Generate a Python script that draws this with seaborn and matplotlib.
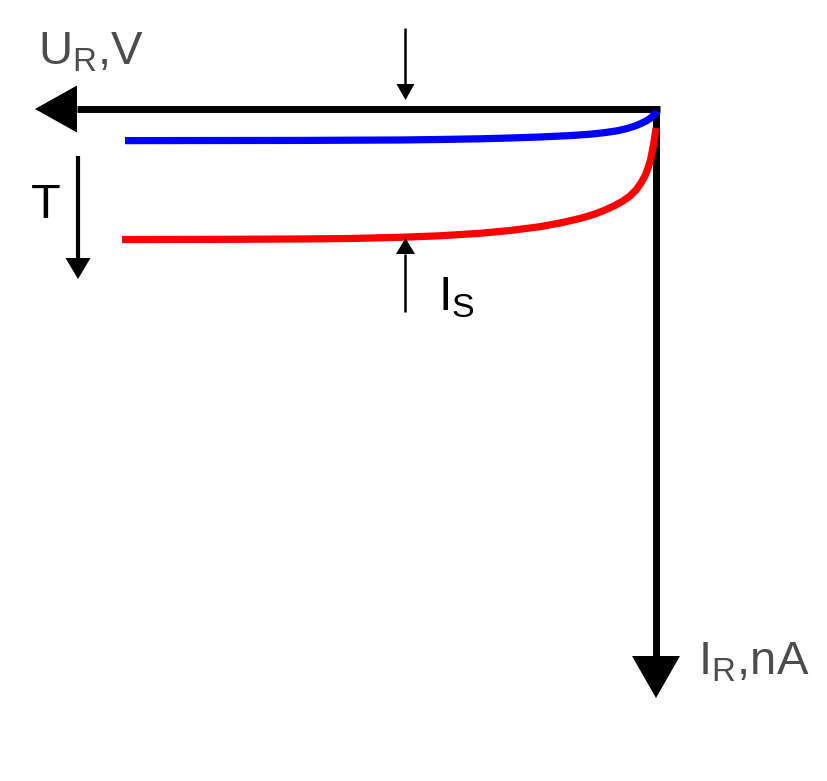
import numpy as np
import pandas as pd
import matplotlib
matplotlib.use('Agg')
import matplotlib.pyplot as plt
import seaborn as sns

# ============================================================
# Data: reverse branch of a diode, two temperatures
# U_R in V (grows to the left), I_R in nA (grows downward)
# ============================================================

u_low = [-0.019, 0.009, 0.057, 0.113, 0.189, 0.283, 0.396, 0.547, 0.736, 0.962,
         1.245, 1.623, 2.189, 2.755, 3.321, 4.075, 4.830, 6.717, 10.019]
i_low = [0.061, 0.136, 0.212, 0.288, 0.364, 0.439, 0.515, 0.591, 0.661, 0.715,
         0.764, 0.806, 0.848, 0.879, 0.903, 0.924, 0.939, 0.952, 0.958]

u_high = [0.000, 0.019, 0.038, 0.066, 0.104, 0.151, 0.208, 0.283, 0.377, 0.491,
          0.623, 0.774, 0.962, 1.151, 1.434, 1.811, 2.189, 2.755, 3.321, 4.075,
          4.830, 5.774, 6.717, 8.604, 10.075]
i_high = [0.576, 0.788, 1.000, 1.242, 1.545, 1.788, 2.030, 2.242, 2.455, 2.636,
          2.788, 2.924, 3.061, 3.182, 3.318, 3.455, 3.567, 3.682, 3.767, 3.842,
          3.888, 3.924, 3.939, 3.952, 3.955]

curve_names = ['low T', 'high T']
curve_colors = ['#0000ff', '#ff0000']

# ============================================================
# Layout (pixel scale of the drawing)
# ============================================================

W, H = 828, 781
x0, y0 = 656, 109          # origin in pixels
ppu, ppi = 53.0, 33.0      # pixels per volt / per nA
gray = '#4d4d4d'

sns.set_style('white')
plt.rcParams['font.family'] = ['Liberation Sans', 'DejaVu Sans']

fig = plt.figure(figsize=(W / 100, H / 100), dpi=100)
ax = fig.add_axes([0, 0, 1, 1])
ax.axis('off')


def to_data(px, py):
    return (x0 - px) / ppu, (py - y0) / ppi


def draw_arrow(start, tip, head_px, half_px, lw, zorder):
    # shaft as a plain line up to the head base, head as a filled triangle
    sx, sy = x0 - start[0] * ppu, y0 + start[1] * ppi
    tx, ty = x0 - tip[0] * ppu, y0 + tip[1] * ppi
    d = np.array([tx - sx, ty - sy])
    d = d / np.hypot(*d)
    base = to_data(tx - d[0] * head_px, ty - d[1] * head_px)
    ax.plot([start[0], base[0]], [start[1], base[1]], color='black', lw=lw,
            solid_capstyle='butt', zorder=zorder)
    style = f'-|>,head_length={head_px * 0.72:.2f},head_width={half_px * 0.72:.2f}'
    ax.annotate('', xy=tip, xytext=start,
                arrowprops=dict(arrowstyle=style, mutation_scale=1, lw=0,
                                color='black', shrinkA=0, shrinkB=0),
                zorder=zorder)


# main axes
draw_arrow(to_data(660, y0), to_data(35, y0), 42, 23.5, 5.0, 2)
draw_arrow(to_data(x0, 105.5), to_data(x0, 698), 42, 24, 5.0, 2)

# curves
df = pd.DataFrame({
    'U': u_low + u_high,
    'I': i_low + i_high,
    'curve': [curve_names[0]] * len(u_low) + [curve_names[1]] * len(u_high),
})
sns.lineplot(data=df, x='U', y='I', hue='curve', hue_order=curve_names,
             palette=dict(zip(curve_names, curve_colors)), sort=False,
             estimator=None, legend=False, lw=5.2, ax=ax, zorder=3)
for line in ax.lines[-2:]:
    line.set_solid_capstyle('butt')
    line.set_solid_joinstyle('round')

# small marker arrows
draw_arrow(to_data(405.5, 28), to_data(405.5, 100), 16, 9, 1.8, 4)
draw_arrow(to_data(405.5, 312), to_data(405.5, 238), 16, 9.5, 1.8, 4)
draw_arrow(to_data(78, 156), to_data(78, 279), 21, 12.5, 3.0, 4)

ax.set_xlim(x0 / ppu, (x0 - W) / ppu)
ax.set_ylim((H - y0) / ppi, -y0 / ppi)

# labels
ax.text(*to_data(38, 65), r'$\mathregular{U_R}$,V', fontsize=34, color=gray,
        ha='left', va='baseline')
ax.text(*to_data(31, 218), 'T', fontsize=35, color='black',
        ha='left', va='baseline')
ax.text(*to_data(438, 310), r'$\mathregular{I_S}$', fontsize=35, color='black',
        ha='left', va='baseline')
ax.text(*to_data(698, 675), r'$\mathregular{I_R}$,nA', fontsize=34, color=gray,
        ha='left', va='baseline')

fig.savefig('out.png', dpi=100, facecolor='white')
